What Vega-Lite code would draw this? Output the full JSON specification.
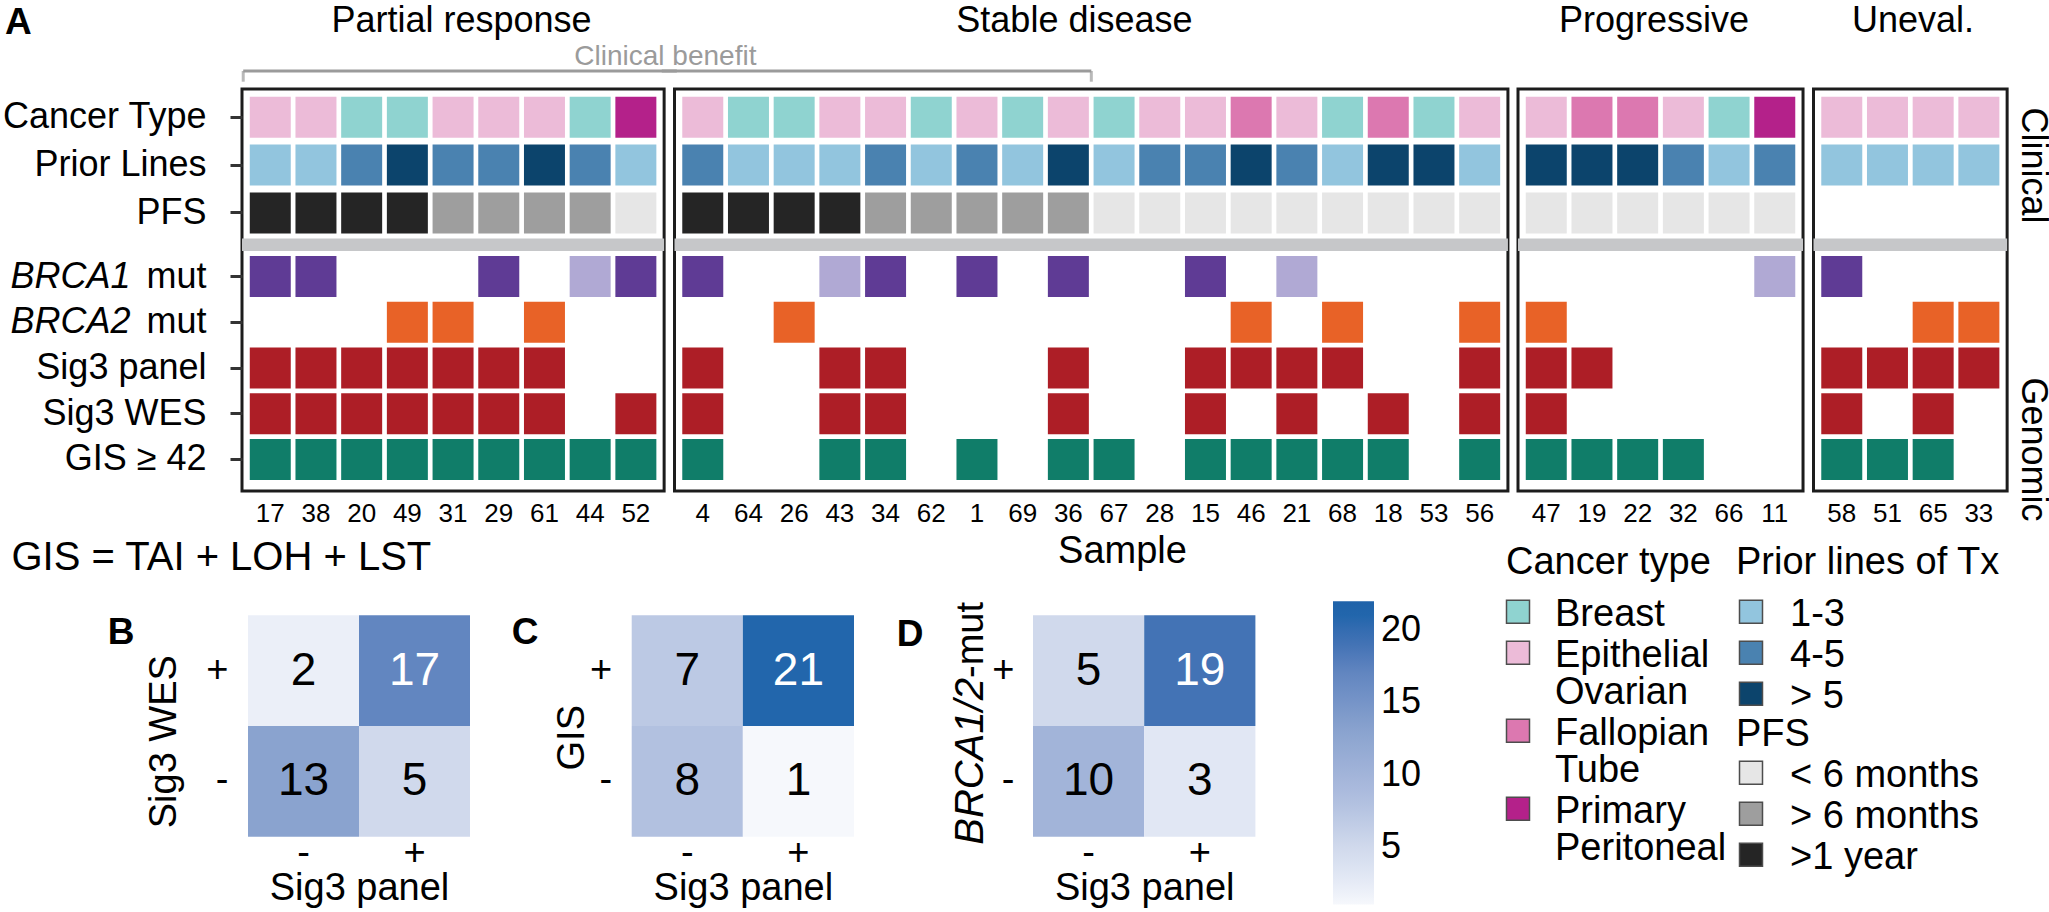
{
"$schema": "https://vega.github.io/schema/vega-lite/v6.json",
"padding": 0,
"autosize": {"type": "pad"},
"background": "white",
"config": {
  "font": "Liberation Sans",
  "view": {"stroke": null},
  "axis": {"domain": false, "grid": false, "labelColor": "#000", "titleColor": "#000", "labelLimit": 0, "maxExtent": 600, "labelOverlap": false, "titleFontWeight": "normal", "titleLimit": 0},
  "legend": {"labelLimit": 0, "titleLimit": 0, "labelColor": "#000", "titleColor": "#000"},
  "title": {"fontWeight": "normal", "color": "#000"}
},
"datasets": {
"cells": [
{"g":"PR","s":"17","r":"Cancer Type","v":"Epithelial Ovarian"},{"g":"PR","s":"17","r":"Prior Lines","v":"1-3"},{"g":"PR","s":"17","r":"PFS","v":">1 year"},{"g":"PR","s":"17","r":"BRCA1 mut","v":"BRCA1 pathogenic"},{"g":"PR","s":"17","r":"Sig3 panel","v":"Sig3 positive"},{"g":"PR","s":"17","r":"Sig3 WES","v":"Sig3 positive"},{"g":"PR","s":"17","r":"GIS ≥ 42","v":"GIS high"},
{"g":"PR","s":"38","r":"Cancer Type","v":"Epithelial Ovarian"},{"g":"PR","s":"38","r":"Prior Lines","v":"1-3"},{"g":"PR","s":"38","r":"PFS","v":">1 year"},{"g":"PR","s":"38","r":"BRCA1 mut","v":"BRCA1 pathogenic"},{"g":"PR","s":"38","r":"Sig3 panel","v":"Sig3 positive"},{"g":"PR","s":"38","r":"Sig3 WES","v":"Sig3 positive"},{"g":"PR","s":"38","r":"GIS ≥ 42","v":"GIS high"},
{"g":"PR","s":"20","r":"Cancer Type","v":"Breast"},{"g":"PR","s":"20","r":"Prior Lines","v":"4-5"},{"g":"PR","s":"20","r":"PFS","v":">1 year"},{"g":"PR","s":"20","r":"Sig3 panel","v":"Sig3 positive"},{"g":"PR","s":"20","r":"Sig3 WES","v":"Sig3 positive"},{"g":"PR","s":"20","r":"GIS ≥ 42","v":"GIS high"},
{"g":"PR","s":"49","r":"Cancer Type","v":"Breast"},{"g":"PR","s":"49","r":"Prior Lines","v":"> 5"},{"g":"PR","s":"49","r":"PFS","v":">1 year"},{"g":"PR","s":"49","r":"BRCA2 mut","v":"BRCA2 pathogenic"},{"g":"PR","s":"49","r":"Sig3 panel","v":"Sig3 positive"},{"g":"PR","s":"49","r":"Sig3 WES","v":"Sig3 positive"},{"g":"PR","s":"49","r":"GIS ≥ 42","v":"GIS high"},
{"g":"PR","s":"31","r":"Cancer Type","v":"Epithelial Ovarian"},{"g":"PR","s":"31","r":"Prior Lines","v":"4-5"},{"g":"PR","s":"31","r":"PFS","v":"> 6 months"},{"g":"PR","s":"31","r":"BRCA2 mut","v":"BRCA2 pathogenic"},{"g":"PR","s":"31","r":"Sig3 panel","v":"Sig3 positive"},{"g":"PR","s":"31","r":"Sig3 WES","v":"Sig3 positive"},{"g":"PR","s":"31","r":"GIS ≥ 42","v":"GIS high"},
{"g":"PR","s":"29","r":"Cancer Type","v":"Epithelial Ovarian"},{"g":"PR","s":"29","r":"Prior Lines","v":"4-5"},{"g":"PR","s":"29","r":"PFS","v":"> 6 months"},{"g":"PR","s":"29","r":"BRCA1 mut","v":"BRCA1 pathogenic"},{"g":"PR","s":"29","r":"Sig3 panel","v":"Sig3 positive"},{"g":"PR","s":"29","r":"Sig3 WES","v":"Sig3 positive"},{"g":"PR","s":"29","r":"GIS ≥ 42","v":"GIS high"},
{"g":"PR","s":"61","r":"Cancer Type","v":"Epithelial Ovarian"},{"g":"PR","s":"61","r":"Prior Lines","v":"> 5"},{"g":"PR","s":"61","r":"PFS","v":"> 6 months"},{"g":"PR","s":"61","r":"BRCA2 mut","v":"BRCA2 pathogenic"},{"g":"PR","s":"61","r":"Sig3 panel","v":"Sig3 positive"},{"g":"PR","s":"61","r":"Sig3 WES","v":"Sig3 positive"},{"g":"PR","s":"61","r":"GIS ≥ 42","v":"GIS high"},
{"g":"PR","s":"44","r":"Cancer Type","v":"Breast"},{"g":"PR","s":"44","r":"Prior Lines","v":"4-5"},{"g":"PR","s":"44","r":"PFS","v":"> 6 months"},{"g":"PR","s":"44","r":"BRCA1 mut","v":"BRCA1 VUS"},{"g":"PR","s":"44","r":"GIS ≥ 42","v":"GIS high"},
{"g":"PR","s":"52","r":"Cancer Type","v":"Primary Peritoneal"},{"g":"PR","s":"52","r":"Prior Lines","v":"1-3"},{"g":"PR","s":"52","r":"PFS","v":"< 6 months"},{"g":"PR","s":"52","r":"BRCA1 mut","v":"BRCA1 pathogenic"},{"g":"PR","s":"52","r":"Sig3 WES","v":"Sig3 positive"},{"g":"PR","s":"52","r":"GIS ≥ 42","v":"GIS high"},
{"g":"SD","s":"4","r":"Cancer Type","v":"Epithelial Ovarian"},{"g":"SD","s":"4","r":"Prior Lines","v":"4-5"},{"g":"SD","s":"4","r":"PFS","v":">1 year"},{"g":"SD","s":"4","r":"BRCA1 mut","v":"BRCA1 pathogenic"},{"g":"SD","s":"4","r":"Sig3 panel","v":"Sig3 positive"},{"g":"SD","s":"4","r":"Sig3 WES","v":"Sig3 positive"},{"g":"SD","s":"4","r":"GIS ≥ 42","v":"GIS high"},
{"g":"SD","s":"64","r":"Cancer Type","v":"Breast"},{"g":"SD","s":"64","r":"Prior Lines","v":"1-3"},{"g":"SD","s":"64","r":"PFS","v":">1 year"},
{"g":"SD","s":"26","r":"Cancer Type","v":"Breast"},{"g":"SD","s":"26","r":"Prior Lines","v":"1-3"},{"g":"SD","s":"26","r":"PFS","v":">1 year"},{"g":"SD","s":"26","r":"BRCA2 mut","v":"BRCA2 pathogenic"},
{"g":"SD","s":"43","r":"Cancer Type","v":"Epithelial Ovarian"},{"g":"SD","s":"43","r":"Prior Lines","v":"1-3"},{"g":"SD","s":"43","r":"PFS","v":">1 year"},{"g":"SD","s":"43","r":"BRCA1 mut","v":"BRCA1 VUS"},{"g":"SD","s":"43","r":"Sig3 panel","v":"Sig3 positive"},{"g":"SD","s":"43","r":"Sig3 WES","v":"Sig3 positive"},{"g":"SD","s":"43","r":"GIS ≥ 42","v":"GIS high"},
{"g":"SD","s":"34","r":"Cancer Type","v":"Epithelial Ovarian"},{"g":"SD","s":"34","r":"Prior Lines","v":"4-5"},{"g":"SD","s":"34","r":"PFS","v":"> 6 months"},{"g":"SD","s":"34","r":"BRCA1 mut","v":"BRCA1 pathogenic"},{"g":"SD","s":"34","r":"Sig3 panel","v":"Sig3 positive"},{"g":"SD","s":"34","r":"Sig3 WES","v":"Sig3 positive"},{"g":"SD","s":"34","r":"GIS ≥ 42","v":"GIS high"},
{"g":"SD","s":"62","r":"Cancer Type","v":"Breast"},{"g":"SD","s":"62","r":"Prior Lines","v":"1-3"},{"g":"SD","s":"62","r":"PFS","v":"> 6 months"},
{"g":"SD","s":"1","r":"Cancer Type","v":"Epithelial Ovarian"},{"g":"SD","s":"1","r":"Prior Lines","v":"4-5"},{"g":"SD","s":"1","r":"PFS","v":"> 6 months"},{"g":"SD","s":"1","r":"BRCA1 mut","v":"BRCA1 pathogenic"},{"g":"SD","s":"1","r":"GIS ≥ 42","v":"GIS high"},
{"g":"SD","s":"69","r":"Cancer Type","v":"Breast"},{"g":"SD","s":"69","r":"Prior Lines","v":"1-3"},{"g":"SD","s":"69","r":"PFS","v":"> 6 months"},
{"g":"SD","s":"36","r":"Cancer Type","v":"Epithelial Ovarian"},{"g":"SD","s":"36","r":"Prior Lines","v":"> 5"},{"g":"SD","s":"36","r":"PFS","v":"> 6 months"},{"g":"SD","s":"36","r":"BRCA1 mut","v":"BRCA1 pathogenic"},{"g":"SD","s":"36","r":"Sig3 panel","v":"Sig3 positive"},{"g":"SD","s":"36","r":"Sig3 WES","v":"Sig3 positive"},{"g":"SD","s":"36","r":"GIS ≥ 42","v":"GIS high"},
{"g":"SD","s":"67","r":"Cancer Type","v":"Breast"},{"g":"SD","s":"67","r":"Prior Lines","v":"1-3"},{"g":"SD","s":"67","r":"PFS","v":"< 6 months"},{"g":"SD","s":"67","r":"GIS ≥ 42","v":"GIS high"},
{"g":"SD","s":"28","r":"Cancer Type","v":"Epithelial Ovarian"},{"g":"SD","s":"28","r":"Prior Lines","v":"4-5"},{"g":"SD","s":"28","r":"PFS","v":"< 6 months"},
{"g":"SD","s":"15","r":"Cancer Type","v":"Epithelial Ovarian"},{"g":"SD","s":"15","r":"Prior Lines","v":"4-5"},{"g":"SD","s":"15","r":"PFS","v":"< 6 months"},{"g":"SD","s":"15","r":"BRCA1 mut","v":"BRCA1 pathogenic"},{"g":"SD","s":"15","r":"Sig3 panel","v":"Sig3 positive"},{"g":"SD","s":"15","r":"Sig3 WES","v":"Sig3 positive"},{"g":"SD","s":"15","r":"GIS ≥ 42","v":"GIS high"},
{"g":"SD","s":"46","r":"Cancer Type","v":"Fallopian Tube"},{"g":"SD","s":"46","r":"Prior Lines","v":"> 5"},{"g":"SD","s":"46","r":"PFS","v":"< 6 months"},{"g":"SD","s":"46","r":"BRCA2 mut","v":"BRCA2 pathogenic"},{"g":"SD","s":"46","r":"Sig3 panel","v":"Sig3 positive"},{"g":"SD","s":"46","r":"GIS ≥ 42","v":"GIS high"},
{"g":"SD","s":"21","r":"Cancer Type","v":"Epithelial Ovarian"},{"g":"SD","s":"21","r":"Prior Lines","v":"4-5"},{"g":"SD","s":"21","r":"PFS","v":"< 6 months"},{"g":"SD","s":"21","r":"BRCA1 mut","v":"BRCA1 VUS"},{"g":"SD","s":"21","r":"Sig3 panel","v":"Sig3 positive"},{"g":"SD","s":"21","r":"Sig3 WES","v":"Sig3 positive"},{"g":"SD","s":"21","r":"GIS ≥ 42","v":"GIS high"},
{"g":"SD","s":"68","r":"Cancer Type","v":"Breast"},{"g":"SD","s":"68","r":"Prior Lines","v":"1-3"},{"g":"SD","s":"68","r":"PFS","v":"< 6 months"},{"g":"SD","s":"68","r":"BRCA2 mut","v":"BRCA2 pathogenic"},{"g":"SD","s":"68","r":"Sig3 panel","v":"Sig3 positive"},{"g":"SD","s":"68","r":"GIS ≥ 42","v":"GIS high"},
{"g":"SD","s":"18","r":"Cancer Type","v":"Fallopian Tube"},{"g":"SD","s":"18","r":"Prior Lines","v":"> 5"},{"g":"SD","s":"18","r":"PFS","v":"< 6 months"},{"g":"SD","s":"18","r":"Sig3 WES","v":"Sig3 positive"},{"g":"SD","s":"18","r":"GIS ≥ 42","v":"GIS high"},
{"g":"SD","s":"53","r":"Cancer Type","v":"Breast"},{"g":"SD","s":"53","r":"Prior Lines","v":"> 5"},{"g":"SD","s":"53","r":"PFS","v":"< 6 months"},
{"g":"SD","s":"56","r":"Cancer Type","v":"Epithelial Ovarian"},{"g":"SD","s":"56","r":"Prior Lines","v":"1-3"},{"g":"SD","s":"56","r":"PFS","v":"< 6 months"},{"g":"SD","s":"56","r":"BRCA2 mut","v":"BRCA2 pathogenic"},{"g":"SD","s":"56","r":"Sig3 panel","v":"Sig3 positive"},{"g":"SD","s":"56","r":"Sig3 WES","v":"Sig3 positive"},{"g":"SD","s":"56","r":"GIS ≥ 42","v":"GIS high"},
{"g":"PD","s":"47","r":"Cancer Type","v":"Epithelial Ovarian"},{"g":"PD","s":"47","r":"Prior Lines","v":"> 5"},{"g":"PD","s":"47","r":"PFS","v":"< 6 months"},{"g":"PD","s":"47","r":"BRCA2 mut","v":"BRCA2 pathogenic"},{"g":"PD","s":"47","r":"Sig3 panel","v":"Sig3 positive"},{"g":"PD","s":"47","r":"Sig3 WES","v":"Sig3 positive"},{"g":"PD","s":"47","r":"GIS ≥ 42","v":"GIS high"},
{"g":"PD","s":"19","r":"Cancer Type","v":"Fallopian Tube"},{"g":"PD","s":"19","r":"Prior Lines","v":"> 5"},{"g":"PD","s":"19","r":"PFS","v":"< 6 months"},{"g":"PD","s":"19","r":"Sig3 panel","v":"Sig3 positive"},{"g":"PD","s":"19","r":"GIS ≥ 42","v":"GIS high"},
{"g":"PD","s":"22","r":"Cancer Type","v":"Fallopian Tube"},{"g":"PD","s":"22","r":"Prior Lines","v":"> 5"},{"g":"PD","s":"22","r":"PFS","v":"< 6 months"},{"g":"PD","s":"22","r":"GIS ≥ 42","v":"GIS high"},
{"g":"PD","s":"32","r":"Cancer Type","v":"Epithelial Ovarian"},{"g":"PD","s":"32","r":"Prior Lines","v":"4-5"},{"g":"PD","s":"32","r":"PFS","v":"< 6 months"},{"g":"PD","s":"32","r":"GIS ≥ 42","v":"GIS high"},
{"g":"PD","s":"66","r":"Cancer Type","v":"Breast"},{"g":"PD","s":"66","r":"Prior Lines","v":"1-3"},{"g":"PD","s":"66","r":"PFS","v":"< 6 months"},
{"g":"PD","s":"11","r":"Cancer Type","v":"Primary Peritoneal"},{"g":"PD","s":"11","r":"Prior Lines","v":"4-5"},{"g":"PD","s":"11","r":"PFS","v":"< 6 months"},{"g":"PD","s":"11","r":"BRCA1 mut","v":"BRCA1 VUS"},
{"g":"UE","s":"58","r":"Cancer Type","v":"Epithelial Ovarian"},{"g":"UE","s":"58","r":"Prior Lines","v":"1-3"},{"g":"UE","s":"58","r":"BRCA1 mut","v":"BRCA1 pathogenic"},{"g":"UE","s":"58","r":"Sig3 panel","v":"Sig3 positive"},{"g":"UE","s":"58","r":"Sig3 WES","v":"Sig3 positive"},{"g":"UE","s":"58","r":"GIS ≥ 42","v":"GIS high"},
{"g":"UE","s":"51","r":"Cancer Type","v":"Epithelial Ovarian"},{"g":"UE","s":"51","r":"Prior Lines","v":"1-3"},{"g":"UE","s":"51","r":"Sig3 panel","v":"Sig3 positive"},{"g":"UE","s":"51","r":"GIS ≥ 42","v":"GIS high"},
{"g":"UE","s":"65","r":"Cancer Type","v":"Epithelial Ovarian"},{"g":"UE","s":"65","r":"Prior Lines","v":"1-3"},{"g":"UE","s":"65","r":"BRCA2 mut","v":"BRCA2 pathogenic"},{"g":"UE","s":"65","r":"Sig3 panel","v":"Sig3 positive"},{"g":"UE","s":"65","r":"Sig3 WES","v":"Sig3 positive"},{"g":"UE","s":"65","r":"GIS ≥ 42","v":"GIS high"},
{"g":"UE","s":"33","r":"Cancer Type","v":"Epithelial Ovarian"},{"g":"UE","s":"33","r":"Prior Lines","v":"1-3"},{"g":"UE","s":"33","r":"BRCA2 mut","v":"BRCA2 pathogenic"},{"g":"UE","s":"33","r":"Sig3 panel","v":"Sig3 positive"}
],
"matrix": [
{"m":"B","row":"+","col":"-","n":2},{"m":"B","row":"+","col":"+","n":17},{"m":"B","row":"-","col":"-","n":13},{"m":"B","row":"-","col":"+","n":5},
{"m":"C","row":"+","col":"-","n":7},{"m":"C","row":"+","col":"+","n":21},{"m":"C","row":"-","col":"-","n":8},{"m":"C","row":"-","col":"+","n":1},
{"m":"D","row":"+","col":"-","n":5},{"m":"D","row":"+","col":"+","n":19},{"m":"D","row":"-","col":"-","n":10},{"m":"D","row":"-","col":"+","n":3}
]
},
"spacing": 4.2,
"vconcat": [
{
"spacing": 9.5,
"bounds": "flush",
"hconcat": [
{
 "width": {"step": 45.7}, "height": 402,
 "view": {"stroke": "#1c1c1c", "strokeWidth": 3},
 "data": {"name": "cells"},
 "transform": [{"filter": "datum.g == 'PR'"}],
 "resolve": {"scale": {"y": "independent", "color": "independent"}, "axis": {"y": "independent"}, "legend": {"color": "independent"}},
 "layer": [
  {"transform": [{"filter": "datum.r == 'Cancer Type'"}], "mark": "rect",
   "encoding": {
    "x": {"field": "s", "type": "nominal", "scale": {"domain": ["17","38","20","49","31","29","61","44","52"], "paddingInner": 0.103, "paddingOuter": 0.17}, "axis": {"orient": "bottom", "labelAngle": 0, "labelFontSize": 26, "labelPadding": 9, "ticks": false, "tickSize": 0, "domain": false, "title": null}},
    "y": {"field": "r", "type": "nominal", "scale": {"domain": ["Cancer Type","Prior Lines","PFS"], "range": [4.3, 147.8], "paddingInner": 0.143, "paddingOuter": 0.0715}, "axis": {"orient": "left", "title": null, "labelFontSize": 36, "labelPadding": 24, "tickSize": 12, "tickWidth": 3, "tickColor": "#333", "domain": false}},
    "color": {"field": "v", "type": "nominal", "scale": {"domain": ["Breast","Epithelial Ovarian","Fallopian Tube","Primary Peritoneal"], "range": ["#8fd3d0","#ecbbd8","#dc78b0","#b4218a"]}, "legend": null}
   }},
  {"transform": [{"filter": "datum.r == 'Prior Lines'"}], "mark": "rect",
   "encoding": {
    "x": {"field": "s", "type": "nominal", "scale": {"domain": ["17","38","20","49","31","29","61","44","52"], "paddingInner": 0.103, "paddingOuter": 0.17}, "axis": {"orient": "bottom", "labelAngle": 0, "labelFontSize": 26, "labelPadding": 9, "ticks": false, "tickSize": 0, "domain": false, "title": null}},
    "y": {"field": "r", "type": "nominal", "scale": {"domain": ["Cancer Type","Prior Lines","PFS"], "range": [4.3, 147.8], "paddingInner": 0.143, "paddingOuter": 0.0715},
     "axis": {"orient": "left", "labels": false, "ticks": false, "tickSize": 0, "domain": false, "title": "A", "titleFontSize": 37, "titleFontWeight": "bold", "titleAngle": 0, "titleX": -237.5, "titleY": -55.3, "titleAlign": "left", "titleBaseline": "alphabetic"}},
    "color": {"field": "v", "type": "nominal", "scale": {"domain": ["1-3","4-5","> 5"], "range": ["#92c5de","#4a82b0","#0c446c"]}, "legend": null}
   }},
  {"transform": [{"filter": "datum.r == 'PFS'"}], "mark": "rect",
   "encoding": {
    "x": {"field": "s", "type": "nominal", "scale": {"domain": ["17","38","20","49","31","29","61","44","52"], "paddingInner": 0.103, "paddingOuter": 0.17}, "axis": {"orient": "bottom", "labelAngle": 0, "labelFontSize": 26, "labelPadding": 9, "ticks": false, "tickSize": 0, "domain": false, "title": null}},
    "y": {"field": "r", "type": "nominal", "scale": {"domain": ["Cancer Type","Prior Lines","PFS"], "range": [4.3, 147.8], "paddingInner": 0.143, "paddingOuter": 0.0715},
     "axis": {"orient": "left", "labels": false, "ticks": false, "tickSize": 0, "domain": false, "title": "Partial response", "titleFontSize": 36, "titleAngle": 0, "titleX": 219, "titleY": -57.7, "titleAlign": "center", "titleBaseline": "alphabetic"}},
    "color": {"field": "v", "type": "nominal", "scale": {"domain": ["< 6 months","> 6 months",">1 year"], "range": ["#e6e6e6","#9e9e9e","#252525"]}, "legend": null}
   }},
  {"data": {"values": [{"part": "divider"}]}, "mark": {"type": "rect", "color": "#c6c7c9"},
   "encoding": {"y": {"field": "part", "type": "nominal", "scale": {"domain": ["divider"], "range": [149.4, 162], "paddingInner": 0, "paddingOuter": 0}, "axis": null}}},
  {"transform": [{"filter": "datum.r == 'Sig3 panel' || datum.r == 'Sig3 WES' || datum.r == 'GIS ≥ 42'"}], "mark": "rect",
   "encoding": {
    "x": {"field": "s", "type": "nominal", "scale": {"domain": ["17","38","20","49","31","29","61","44","52"], "paddingInner": 0.103, "paddingOuter": 0.17}, "axis": {"orient": "bottom", "labelAngle": 0, "labelFontSize": 26, "labelPadding": 9, "ticks": false, "tickSize": 0, "domain": false, "title": null}},
    "y": {"field": "r", "type": "nominal", "scale": {"domain": ["BRCA1 mut","BRCA2 mut","Sig3 panel","Sig3 WES","GIS ≥ 42"], "range": [164.65, 393.35], "paddingInner": 0.103, "paddingOuter": 0.0515},
     "axis": {"orient": "left", "title": null, "labelFontSize": 36, "labelPadding": 24, "tickSize": 12, "tickWidth": 3, "tickColor": "#333", "domain": false, "labelExpr": "datum.value == 'BRCA1 mut' || datum.value == 'BRCA2 mut' ? 'mut' : datum.value"}},
    "color": {"field": "v", "type": "nominal", "scale": {"domain": ["BRCA1 pathogenic","BRCA1 VUS","BRCA2 pathogenic","Sig3 positive","GIS high"], "range": ["#5f3b95","#b0a9d4","#e86227","#ad1e26","#107d69"]}, "legend": null}
   }},
  {"transform": [{"filter": "datum.r == 'BRCA1 mut' || datum.r == 'BRCA2 mut'"}], "mark": "rect",
   "encoding": {
    "x": {"field": "s", "type": "nominal", "scale": {"domain": ["17","38","20","49","31","29","61","44","52"], "paddingInner": 0.103, "paddingOuter": 0.17}, "axis": {"orient": "bottom", "labelAngle": 0, "labelFontSize": 26, "labelPadding": 9, "ticks": false, "tickSize": 0, "domain": false, "title": null}},
    "y": {"field": "r", "type": "nominal", "scale": {"domain": ["BRCA1 mut","BRCA2 mut","Sig3 panel","Sig3 WES","GIS ≥ 42"], "range": [164.65, 393.35], "paddingInner": 0.103, "paddingOuter": 0.0515},
     "axis": {"orient": "left", "title": null, "labelFontSize": 36, "labelFontStyle": "italic", "labelPadding": 112, "ticks": false, "tickSize": 0, "domain": false, "labelExpr": "datum.value == 'BRCA1 mut' ? 'BRCA1' : datum.value == 'BRCA2 mut' ? 'BRCA2' : ''"}},
    "color": {"field": "v", "type": "nominal", "scale": {"domain": ["BRCA1 pathogenic","BRCA1 VUS","BRCA2 pathogenic","Sig3 positive","GIS high"], "range": ["#5f3b95","#b0a9d4","#e86227","#ad1e26","#107d69"]}, "legend": null}
   }},
  {"data": {"values": [{"label": "Clinical benefit"}]}, "mark": {"type": "rule", "color": "#9b9b9b", "strokeWidth": 3},
   "encoding": {
    "x": {"datum": "17", "type": "nominal", "bandPosition": -0.16, "scale": {"domain": ["17","38","20","49","31","29","61","44","52"], "paddingInner": 0.103, "paddingOuter": 0.17}, "axis": {"orient": "bottom", "labelAngle": 0, "labelFontSize": 26, "labelPadding": 9, "ticks": false, "tickSize": 0, "domain": false, "title": null}},
    "x2": {"datum": "52", "bandPosition": 1.5},
    "y": {"field": "label", "type": "nominal", "bandPosition": 0, "scale": {"domain": ["Clinical benefit"], "range": [-18, -7.3], "paddingInner": 0, "paddingOuter": 0}, "axis": null}
   }},
  {"data": {"values": [{"label": "Clinical benefit"}]}, "mark": {"type": "tick", "orient": "vertical", "color": "#9b9b9b", "thickness": 3, "size": 10.7},
   "encoding": {
    "x": {"datum": "17", "type": "nominal", "bandPosition": -0.16, "scale": {"domain": ["17","38","20","49","31","29","61","44","52"], "paddingInner": 0.103, "paddingOuter": 0.17}, "axis": {"orient": "bottom", "labelAngle": 0, "labelFontSize": 26, "labelPadding": 9, "ticks": false, "tickSize": 0, "domain": false, "title": null}},
    "y": {"field": "label", "type": "nominal", "scale": {"domain": ["Clinical benefit"], "range": [-18, -7.3], "paddingInner": 0, "paddingOuter": 0}, "axis": null}
   }},
  {"data": {"values": [{"label": "Clinical benefit"}]}, "mark": {"type": "text", "fontSize": 28, "color": "#9b9b9b", "baseline": "alphabetic", "align": "center", "dy": -11},
   "encoding": {
    "x": {"datum": "52", "type": "nominal", "bandPosition": 1.22, "scale": {"domain": ["17","38","20","49","31","29","61","44","52"], "paddingInner": 0.103, "paddingOuter": 0.17}, "axis": {"orient": "bottom", "labelAngle": 0, "labelFontSize": 26, "labelPadding": 9, "ticks": false, "tickSize": 0, "domain": false, "title": null}},
    "y": {"field": "label", "type": "nominal", "bandPosition": 0, "scale": {"domain": ["Clinical benefit"], "range": [-18, -7.3], "paddingInner": 0, "paddingOuter": 0}, "axis": null},
    "text": {"field": "label"}
   }}
 ]
},
{
 "width": {"step": 45.7}, "height": 402,
 "view": {"stroke": "#1c1c1c", "strokeWidth": 3},
 "data": {"name": "cells"},
 "transform": [{"filter": "datum.g == 'SD'"}],
 "resolve": {"scale": {"y": "independent", "color": "independent"}, "axis": {"y": "independent"}, "legend": {"color": "independent"}},
 "layer": [
  {"transform": [{"filter": "datum.r == 'Cancer Type'"}], "mark": "rect",
   "encoding": {
    "x": {"field": "s", "type": "nominal", "scale": {"domain": ["4","64","26","43","34","62","1","69","36","67","28","15","46","21","68","18","53","56"], "paddingInner": 0.103, "paddingOuter": 0.17}, "axis": {"orient": "bottom", "labelAngle": 0, "labelFontSize": 26, "labelPadding": 9, "ticks": false, "tickSize": 0, "domain": false, "title": null}},
    "y": {"field": "r", "type": "nominal", "scale": {"domain": ["Cancer Type","Prior Lines","PFS"], "range": [4.3, 147.8], "paddingInner": 0.143, "paddingOuter": 0.0715},
     "axis": {"orient": "left", "labels": false, "ticks": false, "tickSize": 0, "domain": false, "title": "Stable disease", "titleFontSize": 36, "titleAngle": 0, "titleX": 399.4, "titleY": -57.7, "titleAlign": "center", "titleBaseline": "alphabetic"}},
    "color": {"field": "v", "type": "nominal", "scale": {"domain": ["Breast","Epithelial Ovarian","Fallopian Tube","Primary Peritoneal"], "range": ["#8fd3d0","#ecbbd8","#dc78b0","#b4218a"]}, "legend": null}
   }},
  {"transform": [{"filter": "datum.r == 'Prior Lines'"}], "mark": "rect",
   "encoding": {
    "x": {"field": "s", "type": "nominal", "scale": {"domain": ["4","64","26","43","34","62","1","69","36","67","28","15","46","21","68","18","53","56"], "paddingInner": 0.103, "paddingOuter": 0.17}, "axis": {"orient": "bottom", "labelAngle": 0, "labelFontSize": 26, "labelPadding": 9, "ticks": false, "tickSize": 0, "domain": false, "title": null}},
    "y": {"field": "r", "type": "nominal", "scale": {"domain": ["Cancer Type","Prior Lines","PFS"], "range": [4.3, 147.8], "paddingInner": 0.143, "paddingOuter": 0.0715}, "axis": null},
    "color": {"field": "v", "type": "nominal", "scale": {"domain": ["1-3","4-5","> 5"], "range": ["#92c5de","#4a82b0","#0c446c"]}, "legend": null}
   }},
  {"transform": [{"filter": "datum.r == 'PFS'"}], "mark": "rect",
   "encoding": {
    "x": {"field": "s", "type": "nominal", "scale": {"domain": ["4","64","26","43","34","62","1","69","36","67","28","15","46","21","68","18","53","56"], "paddingInner": 0.103, "paddingOuter": 0.17}, "axis": {"orient": "bottom", "labelAngle": 0, "labelFontSize": 26, "labelPadding": 9, "ticks": false, "tickSize": 0, "domain": false, "title": null}},
    "y": {"field": "r", "type": "nominal", "scale": {"domain": ["Cancer Type","Prior Lines","PFS"], "range": [4.3, 147.8], "paddingInner": 0.143, "paddingOuter": 0.0715}, "axis": null},
    "color": {"field": "v", "type": "nominal", "scale": {"domain": ["< 6 months","> 6 months",">1 year"], "range": ["#e6e6e6","#9e9e9e","#252525"]}, "legend": null}
   }},
  {"data": {"values": [{"part": "divider"}]}, "mark": {"type": "rect", "color": "#c6c7c9"},
   "encoding": {"y": {"field": "part", "type": "nominal", "scale": {"domain": ["divider"], "range": [149.4, 162], "paddingInner": 0, "paddingOuter": 0}, "axis": null}}},
  {"transform": [{"filter": "datum.r == 'Sig3 panel' || datum.r == 'Sig3 WES' || datum.r == 'GIS ≥ 42'"}], "mark": "rect",
   "encoding": {
    "x": {"field": "s", "type": "nominal", "scale": {"domain": ["4","64","26","43","34","62","1","69","36","67","28","15","46","21","68","18","53","56"], "paddingInner": 0.103, "paddingOuter": 0.17}, "axis": {"orient": "bottom", "labelAngle": 0, "labelFontSize": 26, "labelPadding": 9, "ticks": false, "tickSize": 0, "domain": false, "title": null}},
    "y": {"field": "r", "type": "nominal", "scale": {"domain": ["BRCA1 mut","BRCA2 mut","Sig3 panel","Sig3 WES","GIS ≥ 42"], "range": [164.65, 393.35], "paddingInner": 0.103, "paddingOuter": 0.0515}, "axis": null},
    "color": {"field": "v", "type": "nominal", "scale": {"domain": ["BRCA1 pathogenic","BRCA1 VUS","BRCA2 pathogenic","Sig3 positive","GIS high"], "range": ["#5f3b95","#b0a9d4","#e86227","#ad1e26","#107d69"]}, "legend": null}
   }},
  {"transform": [{"filter": "datum.r == 'BRCA1 mut' || datum.r == 'BRCA2 mut'"}], "mark": "rect",
   "encoding": {
    "x": {"field": "s", "type": "nominal", "scale": {"domain": ["4","64","26","43","34","62","1","69","36","67","28","15","46","21","68","18","53","56"], "paddingInner": 0.103, "paddingOuter": 0.17}, "axis": {"orient": "bottom", "labelAngle": 0, "labelFontSize": 26, "labelPadding": 9, "ticks": false, "tickSize": 0, "domain": false, "title": null}},
    "y": {"field": "r", "type": "nominal", "scale": {"domain": ["BRCA1 mut","BRCA2 mut","Sig3 panel","Sig3 WES","GIS ≥ 42"], "range": [164.65, 393.35], "paddingInner": 0.103, "paddingOuter": 0.0515}, "axis": null},
    "color": {"field": "v", "type": "nominal", "scale": {"domain": ["BRCA1 pathogenic","BRCA1 VUS","BRCA2 pathogenic","Sig3 positive","GIS high"], "range": ["#5f3b95","#b0a9d4","#e86227","#ad1e26","#107d69"]}, "legend": null}
   }},
  {"data": {"values": [{"label": "Clinical benefit"}]}, "mark": {"type": "rule", "color": "#9b9b9b", "strokeWidth": 3},
   "encoding": {
    "x": {"datum": "4", "type": "nominal", "bandPosition": -0.5, "scale": {"domain": ["4","64","26","43","34","62","1","69","36","67","28","15","46","21","68","18","53","56"], "paddingInner": 0.103, "paddingOuter": 0.17}, "axis": {"orient": "bottom", "labelAngle": 0, "labelFontSize": 26, "labelPadding": 9, "ticks": false, "tickSize": 0, "domain": false, "title": null}},
    "x2": {"datum": "36", "bandPosition": 1.06},
    "y": {"field": "label", "type": "nominal", "bandPosition": 0, "scale": {"domain": ["Clinical benefit"], "range": [-18, -7.3], "paddingInner": 0, "paddingOuter": 0}, "axis": null}
   }},
  {"data": {"values": [{"label": "Clinical benefit"}]}, "mark": {"type": "tick", "orient": "vertical", "color": "#9b9b9b", "thickness": 3, "size": 10.7},
   "encoding": {
    "x": {"datum": "36", "type": "nominal", "bandPosition": 1.06, "scale": {"domain": ["4","64","26","43","34","62","1","69","36","67","28","15","46","21","68","18","53","56"], "paddingInner": 0.103, "paddingOuter": 0.17}, "axis": {"orient": "bottom", "labelAngle": 0, "labelFontSize": 26, "labelPadding": 9, "ticks": false, "tickSize": 0, "domain": false, "title": null}},
    "y": {"field": "label", "type": "nominal", "scale": {"domain": ["Clinical benefit"], "range": [-18, -7.3], "paddingInner": 0, "paddingOuter": 0}, "axis": null}
   }}
 ]
},
{
 "width": {"step": 45.7}, "height": 402,
 "view": {"stroke": "#1c1c1c", "strokeWidth": 3},
 "data": {"name": "cells"},
 "transform": [{"filter": "datum.g == 'PD'"}],
 "resolve": {"scale": {"y": "independent", "color": "independent"}, "axis": {"y": "independent"}, "legend": {"color": "independent"}},
 "layer": [
  {"transform": [{"filter": "datum.r == 'Cancer Type'"}], "mark": "rect",
   "encoding": {
    "x": {"field": "s", "type": "nominal", "scale": {"domain": ["47","19","22","32","66","11"], "paddingInner": 0.103, "paddingOuter": 0.17}, "axis": {"orient": "bottom", "labelAngle": 0, "labelFontSize": 26, "labelPadding": 9, "ticks": false, "tickSize": 0, "domain": false, "title": null}},
    "y": {"field": "r", "type": "nominal", "scale": {"domain": ["Cancer Type","Prior Lines","PFS"], "range": [4.3, 147.8], "paddingInner": 0.143, "paddingOuter": 0.0715},
     "axis": {"orient": "left", "labels": false, "ticks": false, "tickSize": 0, "domain": false, "title": "Progressive", "titleFontSize": 36, "titleAngle": 0, "titleX": 135.5, "titleY": -57.7, "titleAlign": "center", "titleBaseline": "alphabetic"}},
    "color": {"field": "v", "type": "nominal", "scale": {"domain": ["Breast","Epithelial Ovarian","Fallopian Tube","Primary Peritoneal"], "range": ["#8fd3d0","#ecbbd8","#dc78b0","#b4218a"]}, "legend": null}
   }},
  {"transform": [{"filter": "datum.r == 'Prior Lines'"}], "mark": "rect",
   "encoding": {
    "x": {"field": "s", "type": "nominal", "scale": {"domain": ["47","19","22","32","66","11"], "paddingInner": 0.103, "paddingOuter": 0.17}, "axis": {"orient": "bottom", "labelAngle": 0, "labelFontSize": 26, "labelPadding": 9, "ticks": false, "tickSize": 0, "domain": false, "title": null}},
    "y": {"field": "r", "type": "nominal", "scale": {"domain": ["Cancer Type","Prior Lines","PFS"], "range": [4.3, 147.8], "paddingInner": 0.143, "paddingOuter": 0.0715}, "axis": null},
    "color": {"field": "v", "type": "nominal", "scale": {"domain": ["1-3","4-5","> 5"], "range": ["#92c5de","#4a82b0","#0c446c"]}, "legend": null}
   }},
  {"transform": [{"filter": "datum.r == 'PFS'"}], "mark": "rect",
   "encoding": {
    "x": {"field": "s", "type": "nominal", "scale": {"domain": ["47","19","22","32","66","11"], "paddingInner": 0.103, "paddingOuter": 0.17}, "axis": {"orient": "bottom", "labelAngle": 0, "labelFontSize": 26, "labelPadding": 9, "ticks": false, "tickSize": 0, "domain": false, "title": null}},
    "y": {"field": "r", "type": "nominal", "scale": {"domain": ["Cancer Type","Prior Lines","PFS"], "range": [4.3, 147.8], "paddingInner": 0.143, "paddingOuter": 0.0715}, "axis": null},
    "color": {"field": "v", "type": "nominal", "scale": {"domain": ["< 6 months","> 6 months",">1 year"], "range": ["#e6e6e6","#9e9e9e","#252525"]}, "legend": null}
   }},
  {"data": {"values": [{"part": "divider"}]}, "mark": {"type": "rect", "color": "#c6c7c9"},
   "encoding": {"y": {"field": "part", "type": "nominal", "scale": {"domain": ["divider"], "range": [149.4, 162], "paddingInner": 0, "paddingOuter": 0}, "axis": null}}},
  {"transform": [{"filter": "datum.r == 'Sig3 panel' || datum.r == 'Sig3 WES' || datum.r == 'GIS ≥ 42'"}], "mark": "rect",
   "encoding": {
    "x": {"field": "s", "type": "nominal", "scale": {"domain": ["47","19","22","32","66","11"], "paddingInner": 0.103, "paddingOuter": 0.17}, "axis": {"orient": "bottom", "labelAngle": 0, "labelFontSize": 26, "labelPadding": 9, "ticks": false, "tickSize": 0, "domain": false, "title": null}},
    "y": {"field": "r", "type": "nominal", "scale": {"domain": ["BRCA1 mut","BRCA2 mut","Sig3 panel","Sig3 WES","GIS ≥ 42"], "range": [164.65, 393.35], "paddingInner": 0.103, "paddingOuter": 0.0515}, "axis": null},
    "color": {"field": "v", "type": "nominal", "scale": {"domain": ["BRCA1 pathogenic","BRCA1 VUS","BRCA2 pathogenic","Sig3 positive","GIS high"], "range": ["#5f3b95","#b0a9d4","#e86227","#ad1e26","#107d69"]}, "legend": null}
   }},
  {"transform": [{"filter": "datum.r == 'BRCA1 mut' || datum.r == 'BRCA2 mut'"}], "mark": "rect",
   "encoding": {
    "x": {"field": "s", "type": "nominal", "scale": {"domain": ["47","19","22","32","66","11"], "paddingInner": 0.103, "paddingOuter": 0.17}, "axis": {"orient": "bottom", "labelAngle": 0, "labelFontSize": 26, "labelPadding": 9, "ticks": false, "tickSize": 0, "domain": false, "title": null}},
    "y": {"field": "r", "type": "nominal", "scale": {"domain": ["BRCA1 mut","BRCA2 mut","Sig3 panel","Sig3 WES","GIS ≥ 42"], "range": [164.65, 393.35], "paddingInner": 0.103, "paddingOuter": 0.0515}, "axis": null},
    "color": {"field": "v", "type": "nominal", "scale": {"domain": ["BRCA1 pathogenic","BRCA1 VUS","BRCA2 pathogenic","Sig3 positive","GIS high"], "range": ["#5f3b95","#b0a9d4","#e86227","#ad1e26","#107d69"]}, "legend": null}
   }}
 ]
},
{
 "width": {"step": 45.7}, "height": 402,
 "view": {"stroke": "#1c1c1c", "strokeWidth": 3},
 "data": {"name": "cells"},
 "transform": [{"filter": "datum.g == 'UE'"}],
 "resolve": {"scale": {"y": "independent", "color": "independent"}, "axis": {"y": "independent"}, "legend": {"color": "independent"}},
 "layer": [
  {"transform": [{"filter": "datum.r == 'Cancer Type'"}], "mark": "rect",
   "encoding": {
    "x": {"field": "s", "type": "nominal", "scale": {"domain": ["58","51","65","33"], "paddingInner": 0.103, "paddingOuter": 0.17}, "axis": {"orient": "bottom", "labelAngle": 0, "labelFontSize": 26, "labelPadding": 9, "ticks": false, "tickSize": 0, "domain": false, "title": null}},
    "y": {"field": "r", "type": "nominal", "scale": {"domain": ["Cancer Type","Prior Lines","PFS"], "range": [4.3, 147.8], "paddingInner": 0.143, "paddingOuter": 0.0715},
     "axis": {"orient": "right", "labels": false, "ticks": false, "tickSize": 0, "domain": false, "title": "Clinical", "titleFontSize": 36, "titlePadding": 6, "titleAngle": 90}},
    "color": {"field": "v", "type": "nominal", "scale": {"domain": ["Breast","Epithelial Ovarian","Fallopian Tube","Primary Peritoneal"], "range": ["#8fd3d0","#ecbbd8","#dc78b0","#b4218a"]}, "legend": null}
   }},
  {"transform": [{"filter": "datum.r == 'Prior Lines'"}], "mark": "rect",
   "encoding": {
    "x": {"field": "s", "type": "nominal", "scale": {"domain": ["58","51","65","33"], "paddingInner": 0.103, "paddingOuter": 0.17}, "axis": {"orient": "bottom", "labelAngle": 0, "labelFontSize": 26, "labelPadding": 9, "ticks": false, "tickSize": 0, "domain": false, "title": null}},
    "y": {"field": "r", "type": "nominal", "scale": {"domain": ["Cancer Type","Prior Lines","PFS"], "range": [4.3, 147.8], "paddingInner": 0.143, "paddingOuter": 0.0715},
     "axis": {"orient": "left", "labels": false, "ticks": false, "tickSize": 0, "domain": false, "title": "Uneval.", "titleFontSize": 36, "titleAngle": 0, "titleX": 99, "titleY": -57.7, "titleAlign": "center", "titleBaseline": "alphabetic"}},
    "color": {"field": "v", "type": "nominal", "scale": {"domain": ["1-3","4-5","> 5"], "range": ["#92c5de","#4a82b0","#0c446c"]}, "legend": null}
   }},
  {"data": {"values": [{"part": "divider"}]}, "mark": {"type": "rect", "color": "#c6c7c9"},
   "encoding": {"y": {"field": "part", "type": "nominal", "scale": {"domain": ["divider"], "range": [149.4, 162], "paddingInner": 0, "paddingOuter": 0}, "axis": null}}},
  {"transform": [{"filter": "datum.r == 'Sig3 panel' || datum.r == 'Sig3 WES' || datum.r == 'GIS ≥ 42'"}], "mark": "rect",
   "encoding": {
    "x": {"field": "s", "type": "nominal", "scale": {"domain": ["58","51","65","33"], "paddingInner": 0.103, "paddingOuter": 0.17}, "axis": {"orient": "bottom", "labelAngle": 0, "labelFontSize": 26, "labelPadding": 9, "ticks": false, "tickSize": 0, "domain": false, "title": null}},
    "y": {"field": "r", "type": "nominal", "scale": {"domain": ["BRCA1 mut","BRCA2 mut","Sig3 panel","Sig3 WES","GIS ≥ 42"], "range": [164.65, 393.35], "paddingInner": 0.103, "paddingOuter": 0.0515},
     "axis": {"orient": "right", "labels": false, "ticks": false, "tickSize": 0, "domain": false, "title": "Genomic", "titleFontSize": 36, "titlePadding": 6, "titleAngle": 90, "titleY": 360}},
    "color": {"field": "v", "type": "nominal", "scale": {"domain": ["BRCA1 pathogenic","BRCA1 VUS","BRCA2 pathogenic","Sig3 positive","GIS high"], "range": ["#5f3b95","#b0a9d4","#e86227","#ad1e26","#107d69"]}, "legend": null}
   }},
  {"transform": [{"filter": "datum.r == 'BRCA1 mut' || datum.r == 'BRCA2 mut'"}], "mark": "rect",
   "encoding": {
    "x": {"field": "s", "type": "nominal", "scale": {"domain": ["58","51","65","33"], "paddingInner": 0.103, "paddingOuter": 0.17}, "axis": {"orient": "bottom", "labelAngle": 0, "labelFontSize": 26, "labelPadding": 9, "ticks": false, "tickSize": 0, "domain": false, "title": null}},
    "y": {"field": "r", "type": "nominal", "scale": {"domain": ["BRCA1 mut","BRCA2 mut","Sig3 panel","Sig3 WES","GIS ≥ 42"], "range": [164.65, 393.35], "paddingInner": 0.103, "paddingOuter": 0.0515}, "axis": null},
    "color": {"field": "v", "type": "nominal", "scale": {"domain": ["BRCA1 pathogenic","BRCA1 VUS","BRCA2 pathogenic","Sig3 positive","GIS high"], "range": ["#5f3b95","#b0a9d4","#e86227","#ad1e26","#107d69"]}, "legend": null}
   }}
 ]
}
]
},
{
 "width": 228, "height": 221.6,
 "data": {"name": "matrix"},
 "resolve": {"scale": {"x": "independent", "y": "independent", "color": "independent"}, "axis": {"x": "independent", "y": "independent"}, "legend": {"color": "independent"}},
 "layer": [
  {"transform": [{"filter": "datum.m == 'B'"}], "mark": "rect",
   "encoding": {
    "x": {"field": "col", "type": "ordinal", "scale": {"domain": ["-","+"], "range": [6, 228], "paddingInner": 0, "paddingOuter": 0},
     "axis": {"orient": "bottom", "labelAngle": 0, "labelFontSize": 38, "labelPadding": -2, "ticks": false, "tickSize": 0, "domain": false, "title": "Sig3 panel", "titleFontSize": 38, "titlePadding": -3}},
    "y": {"field": "row", "type": "ordinal", "scale": {"domain": ["+","-"], "range": [0, 221.6], "paddingInner": 0, "paddingOuter": 0},
     "axis": {"orient": "left", "labelAngle": 0, "labelFontSize": 38, "labelPadding": 14, "ticks": false, "tickSize": 0, "domain": false, "title": "Sig3 WES", "titleFontSize": 38, "titlePadding": 22, "titleY": 126}},
    "color": {"field": "n", "type": "quantitative",
     "scale": {"type": "linear", "domain": [1, 3, 5, 8, 10, 13, 17, 19, 21, 22], "range": ["#f6f8fc", "#e1e7f4", "#d0d9ec", "#b2c1e0", "#a2b4d9", "#8aa3cf", "#6286c0", "#4373b5", "#2266ac", "#1f62a9"]},
     "legend": {"orient": "none", "legendX": 1091, "legendY": -14, "direction": "vertical", "gradientLength": 303.4, "gradientThickness": 41, "title": null, "values": [5, 10, 15, 20], "labelFontSize": 36, "labelOffset": 7, "labelOverlap": false, "padding": 0, "gradientStrokeWidth": 0}}
   }},
  {"transform": [{"filter": "datum.m == 'B'"}], "mark": {"type": "text", "fontSize": 46},
   "encoding": {
    "x": {"field": "col", "type": "ordinal", "scale": {"domain": ["-","+"], "range": [6, 228], "paddingInner": 0, "paddingOuter": 0},
     "axis": {"orient": "bottom", "labels": false, "ticks": false, "tickSize": 0, "domain": false, "title": "GIS = TAI + LOH + LST", "titleFontSize": 40, "titleX": -231, "titleY": -267.5, "titleAlign": "left", "titleBaseline": "alphabetic", "titleAngle": 0}},
    "y": {"field": "row", "type": "ordinal", "scale": {"domain": ["+","-"], "range": [0, 221.6], "paddingInner": 0, "paddingOuter": 0},
     "axis": {"orient": "left", "labels": false, "ticks": false, "tickSize": 0, "domain": false, "title": "B", "titleFontSize": 37, "titleFontWeight": "bold", "titleAngle": 0, "titleX": -108, "titleY": -1, "titleAlign": "right", "titleBaseline": "top"}},
    "text": {"field": "n", "type": "quantitative"},
    "color": {"condition": {"test": "datum.n >= 15", "value": "white"}, "value": "black"}
   }},
  {"transform": [{"filter": "datum.m == 'C'"}], "mark": "rect",
   "encoding": {
    "x": {"field": "col", "type": "ordinal", "scale": {"domain": ["-","+"], "range": [389.7, 612], "paddingInner": 0, "paddingOuter": 0},
     "axis": {"orient": "bottom", "labelAngle": 0, "labelFontSize": 38, "labelPadding": -2, "ticks": false, "tickSize": 0, "domain": false, "title": "Sig3 panel", "titleFontSize": 38, "titlePadding": -3}},
    "y": {"field": "row", "type": "ordinal", "scale": {"domain": ["+","-"], "range": [0, 221.6], "paddingInner": 0, "paddingOuter": 0},
     "axis": {"orient": "left", "offset": -389.7, "labelAngle": 0, "labelFontSize": 38, "labelPadding": 20, "ticks": false, "tickSize": 0, "domain": false, "title": "GIS", "titleFontSize": 38, "titlePadding": -2, "titleY": 122}},
    "color": {"field": "n", "type": "quantitative",
     "scale": {"type": "linear", "domain": [1, 3, 5, 8, 10, 13, 17, 19, 21, 22], "range": ["#f6f8fc", "#e1e7f4", "#d0d9ec", "#b2c1e0", "#a2b4d9", "#8aa3cf", "#6286c0", "#4373b5", "#2266ac", "#1f62a9"]}, "legend": null}
   }},
  {"transform": [{"filter": "datum.m == 'C'"}], "mark": {"type": "text", "fontSize": 46},
   "encoding": {
    "x": {"field": "col", "type": "ordinal", "scale": {"domain": ["-","+"], "range": [389.7, 612], "paddingInner": 0, "paddingOuter": 0},
     "axis": {"orient": "bottom", "labels": false, "ticks": false, "tickSize": 0, "domain": false, "title": "Sample", "titleFontSize": 38, "titleX": 880, "titleY": -274, "titleAlign": "center", "titleBaseline": "alphabetic", "titleAngle": 0}},
    "y": {"field": "row", "type": "ordinal", "scale": {"domain": ["+","-"], "range": [0, 221.6], "paddingInner": 0, "paddingOuter": 0},
     "axis": {"orient": "left", "offset": -389.7, "labels": false, "ticks": false, "tickSize": 0, "domain": false, "title": "C", "titleFontSize": 37, "titleFontWeight": "bold", "titleAngle": 0, "titleX": -93.7, "titleY": -1, "titleAlign": "right", "titleBaseline": "top"}},
    "text": {"field": "n", "type": "quantitative"},
    "color": {"condition": {"test": "datum.n >= 15", "value": "white"}, "value": "black"}
   }},
  {"transform": [{"filter": "datum.m == 'D'"}], "mark": "rect",
   "encoding": {
    "x": {"field": "col", "type": "ordinal", "scale": {"domain": ["-","+"], "range": [791, 1013.4], "paddingInner": 0, "paddingOuter": 0},
     "axis": {"orient": "bottom", "labelAngle": 0, "labelFontSize": 38, "labelPadding": -2, "ticks": false, "tickSize": 0, "domain": false, "title": "Sig3 panel", "titleFontSize": 38, "titlePadding": -3}},
    "y": {"field": "row", "type": "ordinal", "scale": {"domain": ["+","-"], "range": [0, 221.6], "paddingInner": 0, "paddingOuter": 0},
     "axis": {"orient": "left", "offset": -791, "labelAngle": 0, "labelFontSize": 38, "labelPadding": 19, "ticks": false, "tickSize": 0, "domain": false, "title": "-mut", "titleFontSize": 38, "titlePadding": 1, "titleY": 62.3, "titleAlign": "left"}},
    "color": {"field": "n", "type": "quantitative",
     "scale": {"type": "linear", "domain": [1, 3, 5, 8, 10, 13, 17, 19, 21, 22], "range": ["#f6f8fc", "#e1e7f4", "#d0d9ec", "#b2c1e0", "#a2b4d9", "#8aa3cf", "#6286c0", "#4373b5", "#2266ac", "#1f62a9"]}, "legend": null}
   }},
  {"transform": [{"filter": "datum.m == 'D'"}], "mark": {"type": "text", "fontSize": 46},
   "encoding": {
    "x": {"field": "col", "type": "ordinal", "scale": {"domain": ["-","+"], "range": [791, 1013.4], "paddingInner": 0, "paddingOuter": 0},
     "axis": {"orient": "bottom", "labels": false, "ticks": false, "tickSize": 0, "domain": false, "title": "D", "titleFontSize": 37, "titleFontWeight": "bold", "titleX": 681, "titleY": -220, "titleAlign": "right", "titleBaseline": "top", "titleAngle": 0}},
    "y": {"field": "row", "type": "ordinal", "scale": {"domain": ["+","-"], "range": [0, 221.6], "paddingInner": 0, "paddingOuter": 0},
     "axis": {"orient": "left", "offset": -791, "labelAngle": 0, "labelFontSize": 38, "labelPadding": 19, "labelOpacity": 0, "ticks": false, "tickSize": 0, "domain": false, "title": "BRCA1/2", "titleFontSize": 40, "titleFontStyle": "italic", "titlePadding": 1, "titleY": 62.3, "titleAlign": "right"}},
    "text": {"field": "n", "type": "quantitative"},
    "color": {"condition": {"test": "datum.n >= 15", "value": "white"}, "value": "black"}
   }},
  {"data": {"name": "cells"}, "transform": [{"filter": "datum.r == 'Cancer Type'"}], "mark": {"type": "rect", "opacity": 0},
   "encoding": {"color": {"field": "v", "type": "nominal", "scale": {"domain": ["Breast","Epithelial Ovarian","Fallopian Tube","Primary Peritoneal"], "range": ["#8fd3d0","#ecbbd8","#dc78b0","#b4218a"]},
     "legend": {"orient": "none", "legendX": 1264, "legendY": -71.5, "title": "Cancer type", "titleFontSize": 38, "titleFontWeight": "normal", "titlePadding": 11, "symbolType": "square", "symbolSize": 529, "symbolOffset": -7, "symbolStrokeColor": "#4d4d4d", "symbolStrokeWidth": 1.5, "symbolOpacity": 1, "labelFontSize": 38, "labelOffset": 18, "labelBaseline": "top", "labelExpr": "split(datum.label, ' ')", "rowPadding": 0, "padding": 0,
      "encode": {"symbols": {"update": {"opacity": {"value": 1}, "fillOpacity": {"value": 1}, "strokeOpacity": {"value": 1}}}, "labels": {"update": {"dy": {"value": -16}, "lineHeight": {"value": 37}}}}}}}},
  {"data": {"name": "cells"}, "transform": [{"filter": "datum.r == 'Prior Lines'"}], "mark": {"type": "rect", "opacity": 0},
   "encoding": {"color": {"field": "v", "type": "nominal", "scale": {"domain": ["1-3","4-5","> 5"], "range": ["#92c5de","#4a82b0","#0c446c"]},
     "legend": {"orient": "none", "legendX": 1494, "legendY": -71.5, "title": "Prior lines of Tx", "titleFontSize": 38, "titleFontWeight": "normal", "titlePadding": 11, "symbolType": "square", "symbolSize": 529, "symbolOffset": -4, "symbolStrokeColor": "#4d4d4d", "symbolStrokeWidth": 1.5, "symbolOpacity": 1, "labelFontSize": 38, "labelOffset": 20, "labelBaseline": "top", "rowPadding": 0, "padding": 0,
      "encode": {"symbols": {"update": {"opacity": {"value": 1}, "fillOpacity": {"value": 1}, "strokeOpacity": {"value": 1}}}, "labels": {"update": {"dy": {"value": -16}}}}}}}},
  {"data": {"name": "cells"}, "transform": [{"filter": "datum.r == 'PFS'"}], "mark": {"type": "rect", "opacity": 0},
   "encoding": {"color": {"field": "v", "type": "nominal", "scale": {"domain": ["< 6 months","> 6 months",">1 year"], "range": ["#e6e6e6","#9e9e9e","#252525"]},
     "legend": {"orient": "none", "legendX": 1494, "legendY": 100.5, "title": "PFS", "titleFontSize": 38, "titleFontWeight": "normal", "titlePadding": 0, "symbolType": "square", "symbolSize": 529, "symbolOffset": -4, "symbolStrokeColor": "#4d4d4d", "symbolStrokeWidth": 1.5, "symbolOpacity": 1, "labelFontSize": 38, "labelOffset": 20, "labelBaseline": "top", "rowPadding": -5, "padding": 0,
      "encode": {"symbols": {"update": {"opacity": {"value": 1}, "fillOpacity": {"value": 1}, "strokeOpacity": {"value": 1}}}, "labels": {"update": {"dy": {"value": -16}}}}}}}}
 ]
}
]
}
